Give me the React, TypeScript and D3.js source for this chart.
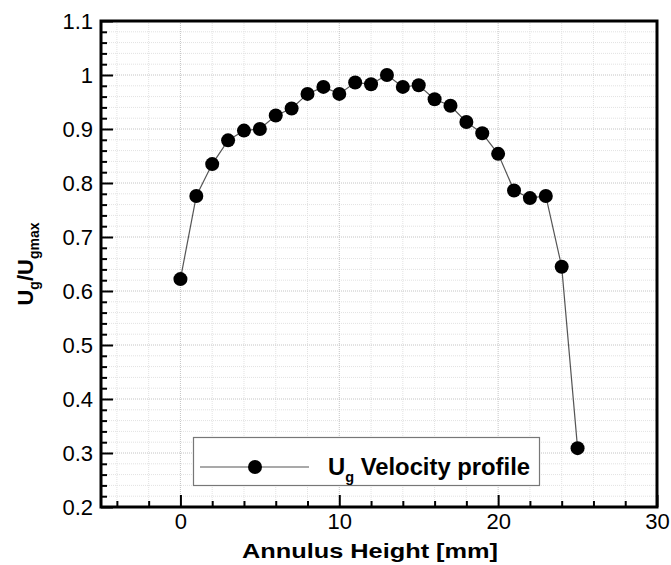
import React, { useRef, useEffect } from 'react'
import * as d3 from 'd3'

const heights = [0, 1, 2, 3, 4, 5, 6, 7, 8, 9, 10, 11, 12, 13, 14, 15, 16, 17, 18, 19, 20, 21, 22, 23, 24, 25]
const velocity = [0.622, 0.776, 0.835, 0.879, 0.897, 0.900, 0.925, 0.938, 0.965, 0.978, 0.965, 0.986, 0.983, 1.000, 0.978, 0.981, 0.955, 0.943, 0.913, 0.892, 0.854, 0.786, 0.772, 0.776, 0.645, 0.309]
const xTicks = [0, 10, 20, 30]
const yTicks = [0.2, 0.3, 0.4, 0.5, 0.6, 0.7, 0.8, 0.9, 1, 1.1]

const font = 'Liberation Sans, Arial, sans-serif'

const App = () => {
    const ref = useRef<SVGSVGElement>(null)
    useEffect(() => {
        document.body.style.margin = '0'
        const w = 671
        const h = 565
        const m = { left: 101, top: 21, right: 657, bottom: 507 }
        const svg = d3.select(ref.current)
            .attr('width', w)
            .attr('height', h)
            .style('background', 'white')
        svg.selectAll('*').remove()

        const x = d3.scaleLinear().domain([-5, 30]).range([m.left, m.right])
        const y = d3.scaleLinear().domain([0.2, 1.1]).range([m.bottom, m.top])

        // grid, minor first then major
        const grid = svg.append('g')
        const xMinor = d3.range(-4, 30, 2).filter(v => v % 10 !== 0)
        const yMinor = d3.range(0, 45).map(i => 0.2 + i * 0.02).filter((v, i) => i % 5 !== 0)
        grid.selectAll('.gx').data(xMinor).enter().append('line')
            .attr('x1', d => x(d)).attr('x2', d => x(d))
            .attr('y1', m.top).attr('y2', m.bottom)
            .style('stroke', '#e2e2e2').style('stroke-dasharray', '1,1')
        grid.selectAll('.gy').data(yMinor).enter().append('line')
            .attr('y1', d => y(d)).attr('y2', d => y(d))
            .attr('x1', m.left).attr('x2', m.right)
            .style('stroke', '#e2e2e2').style('stroke-dasharray', '1,1')
        grid.selectAll('.gxm').data([0, 10, 20]).enter().append('line')
            .attr('x1', d => x(d)).attr('x2', d => x(d))
            .attr('y1', m.top).attr('y2', m.bottom)
            .style('stroke', '#c4c4c4').style('stroke-dasharray', '1,1')
        grid.selectAll('.gym').data(yTicks.slice(1, -1)).enter().append('line')
            .attr('y1', d => y(d)).attr('y2', d => y(d))
            .attr('x1', m.left).attr('x2', m.right)
            .style('stroke', '#c4c4c4').style('stroke-dasharray', '1,1')

        // axes ticks (inward)
        const xAxis = d3.axisBottom(x)
            .tickValues(xTicks)
            .tickSize(-12)
            .tickPadding(6)
        const xAxisMinor = d3.axisBottom(x)
            .tickValues(xMinor)
            .tickSize(-6)
            .tickFormat(() => '')
        const yAxis = d3.axisLeft(y)
            .tickValues(yTicks)
            .tickSize(-12)
            .tickPadding(8)
            .tickFormat(d => d3.format('')(+(+d).toFixed(1)))
        const yAxisMinor = d3.axisLeft(y)
            .tickValues(yMinor)
            .tickSize(-6)
            .tickFormat(() => '')

        const styleAxis = (g: any) => {
            g.select('.domain').remove()
            g.selectAll('line').style('stroke', '#000').style('stroke-width', 2)
            g.selectAll('text')
                .style('fill', '#000')
                .style('font-family', font)
                .style('font-size', '22px')
        }
        svg.append('g').attr('transform', `translate(0, ${m.bottom})`).call(xAxisMinor).call(styleAxis)
        svg.append('g').attr('transform', `translate(0, ${m.bottom})`).call(xAxis).call(styleAxis)
        svg.append('g').attr('transform', `translate(${m.left}, 0)`).call(yAxisMinor).call(styleAxis)
        svg.append('g').attr('transform', `translate(${m.left}, 0)`).call(yAxis).call(styleAxis)

        // frame
        svg.append('rect')
            .attr('x', m.left).attr('y', m.top)
            .attr('width', m.right - m.left).attr('height', m.bottom - m.top)
            .attr('fill', 'none').attr('stroke', '#000').attr('stroke-width', 3)

        // data
        const pts = heights.map((d, i) => [d, velocity[i]] as [number, number])
        const line = d3.line<[number, number]>().x(d => x(d[0])).y(d => y(d[1]))
        svg.append('path')
            .datum(pts)
            .attr('d', line)
            .attr('fill', 'none')
            .attr('stroke', '#555')
            .attr('stroke-width', 1.2)
        svg.selectAll('.pt').data(pts).enter().append('circle')
            .attr('cx', d => x(d[0])).attr('cy', d => y(d[1]))
            .attr('r', 7)
            .attr('fill', '#000')

        // legend
        const lg = svg.append('g')
        lg.append('rect')
            .attr('x', 193.5).attr('y', 437.5).attr('width', 346).attr('height', 48)
            .attr('fill', '#fff').attr('stroke', '#777').attr('stroke-width', 1.2)
        lg.append('line')
            .attr('x1', 200).attr('x2', 309).attr('y1', 467).attr('y2', 467)
            .attr('stroke', '#555').attr('stroke-width', 1.2)
        lg.append('circle').attr('cx', 255).attr('cy', 467).attr('r', 7).attr('fill', '#000')
        const lt = lg.append('text')
            .attr('x', 328).attr('y', 475)
            .style('font-family', font).style('font-weight', 'bold').style('font-size', '23px')
            .attr('textLength', 202).attr('lengthAdjust', 'spacingAndGlyphs')
        lt.append('tspan').text('U')
        lt.append('tspan').attr('dy', 7).style('font-size', '14px').text('g')
        lt.append('tspan').attr('dy', -7).text(' Velocity profile')

        // axis titles
        svg.append('text')
            .attr('x', 370).attr('y', 558)
            .attr('text-anchor', 'middle')
            .style('font-family', font).style('font-weight', 'bold').style('font-size', '21px')
            .attr('textLength', 256).attr('lengthAdjust', 'spacingAndGlyphs')
            .text('Annulus Height [mm]')
        const yt = svg.append('text')
            .attr('transform', `translate(33, 264) rotate(-90)`)
            .attr('text-anchor', 'middle')
            .style('font-family', font).style('font-weight', 'bold').style('font-size', '22px')
        yt.append('tspan').text('U')
        yt.append('tspan').attr('dy', 6).style('font-size', '14px').text('g')
        yt.append('tspan').attr('dy', -6).text('/U')
        yt.append('tspan').attr('dy', 6).style('font-size', '14px').text('gmax')
    }, [])
    return (
        <div>
            <svg ref={ref} style={{ display: 'block' }}></svg>
        </div>
    )
}

export default App
